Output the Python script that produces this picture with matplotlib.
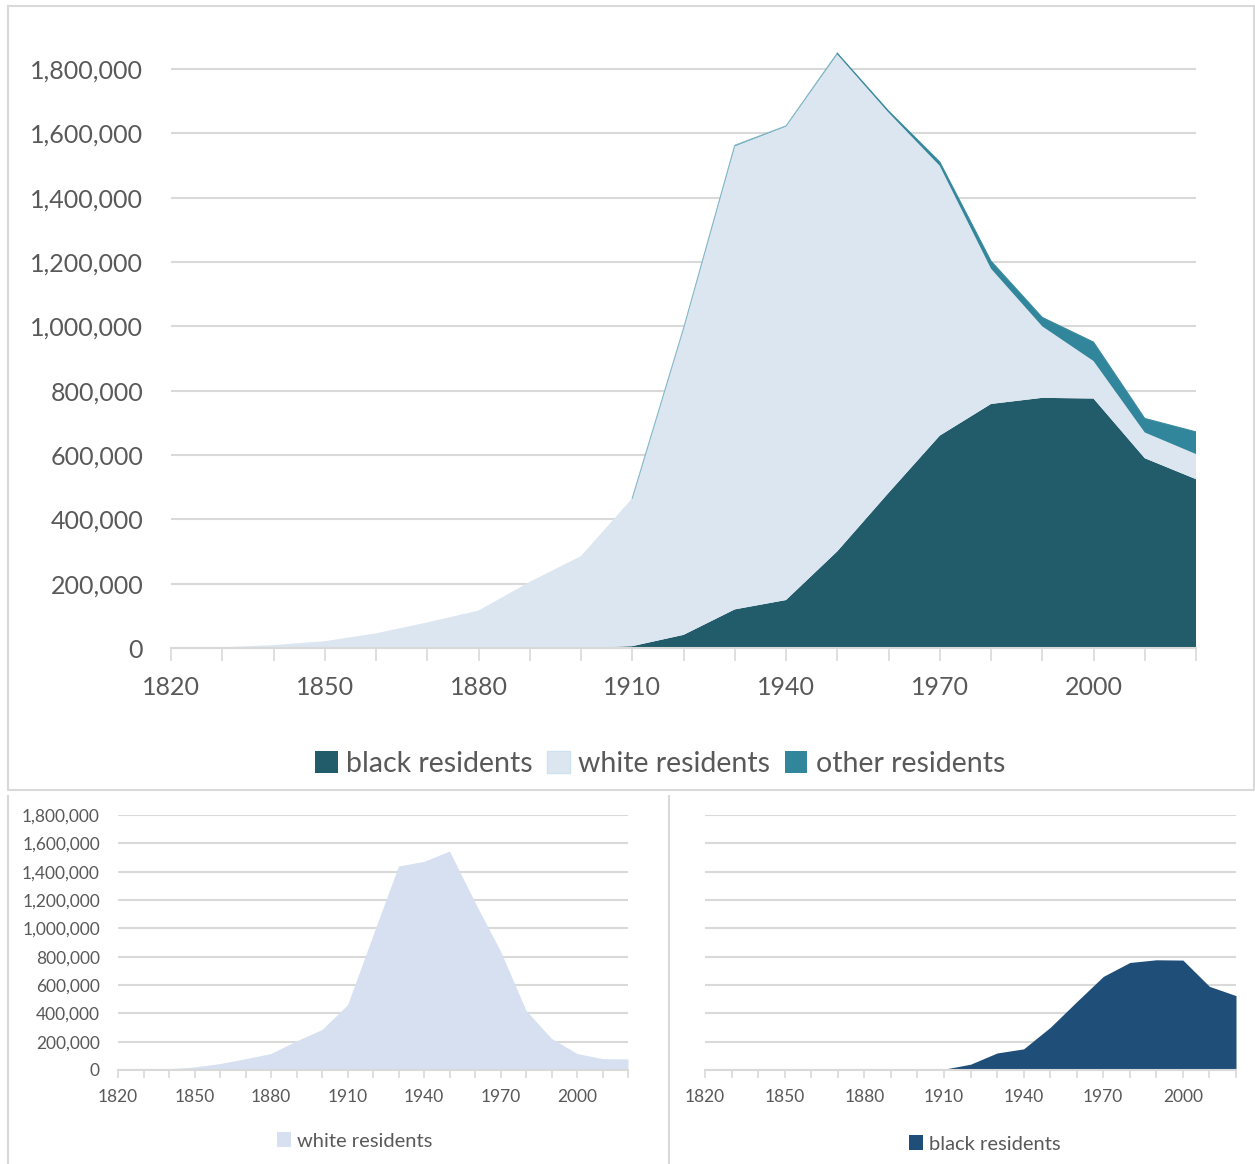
import matplotlib.pyplot as plt
from matplotlib.patches import Patch
from matplotlib.lines import Line2D

plt.rcParams["font.family"] = ["Lato", "DejaVu Sans"]

# census decades and residents by group
years = [1820, 1830, 1840, 1850, 1860, 1870, 1880, 1890, 1900, 1910, 1920,
         1930, 1940, 1950, 1960, 1970, 1980, 1990, 2000, 2010, 2020]
black = [0, 0, 0, 0, 0, 0, 0, 0, 0, 5741, 40838,
         120066, 149119, 300506, 482223, 660428, 758939, 777916, 775772, 590226, 525000]
white = [1422, 2222, 9102, 21019, 45619, 79577, 116340, 205876, 285704, 460025, 952840,
         1440141, 1472662, 1545847, 1182970, 838877, 420529, 222316, 116599, 80000, 78000]
other = [0, 0, 0, 0, 0, 0, 0, 0, 0, 0, 0,
         3000, 1671, 3215, 4951, 12177, 23871, 27742, 58899, 43551, 69000]

label_years = [1820, 1850, 1880, 1910, 1940, 1970, 2000]
y_ticks = [0, 200000, 400000, 600000, 800000, 1000000, 1200000, 1400000, 1600000, 1800000]

C_BLACK = "#225b6a"
C_WHITE = "#dce6f1"
C_OTHER = "#31869b"
C_WHITE_SOLO = "#d6e0f0"
C_BLACK_SOLO = "#1f4e79"
GRID = "#d9d9d9"
TEXT = "#595959"

W, H = 1255, 1164
fig = plt.figure(figsize=(W / 100, H / 100), dpi=100)


def px_axes(x0, x1, y_top, y_bot):
    return fig.add_axes([x0 / W, 1 - y_bot / H, (x1 - x0) / W, (y_bot - y_top) / H])


def style_axes(ax, fs, ymax, show_y=True, tick_len=7, xpad=6, ypad=10):
    ax.set_xlim(years[0], years[-1])
    ax.set_ylim(0, ymax)
    ax.set_yticks(y_ticks)
    if show_y:
        ax.set_yticklabels([f"{v:,}" for v in y_ticks])
    else:
        ax.set_yticklabels([])
    ax.set_xticks(years)
    ax.set_xticklabels([str(y) if y in label_years else "" for y in years])
    ax.grid(axis="y", color=GRID, linewidth=1.5)
    ax.set_axisbelow(True)
    for s in ["top", "right", "left"]:
        ax.spines[s].set_visible(False)
    ax.spines["bottom"].set_color(GRID)
    ax.spines["bottom"].set_linewidth(1.5)
    ax.spines["bottom"].set_zorder(5)
    ax.tick_params(axis="x", direction="out", length=tick_len, width=1.2, color=GRID,
                   labelsize=fs, labelcolor=TEXT, pad=xpad)
    ax.tick_params(axis="y", length=0, labelsize=fs, labelcolor=TEXT, pad=ypad)


# main stacked chart
ax = px_axes(171, 1196, 37, 648)
ax.stackplot(years, black, white, other, colors=[C_BLACK, C_WHITE, C_OTHER], linewidth=0)
total = [b + w + o for b, w, o in zip(black, white, other)]
i0 = years.index(1910)
i1 = years.index(1950)
ax.plot(years[i0:i1 + 1], total[i0:i1 + 1], color="#84b8c7", linewidth=0.8)
ax.plot(years[i1:], total[i1:], color="#3b8a9e", linewidth=0.8)
style_axes(ax, 18, 1900000, tick_len=9, xpad=11, ypad=20)

fig.legend(handles=[Patch(facecolor=C_BLACK), Patch(facecolor=C_WHITE, edgecolor="#cfe3ee"),
                    Patch(facecolor=C_OTHER)],
           labels=["black residents", "white residents", "other residents"],
           loc="center", bbox_to_anchor=(660 / W, 1 - 764 / H), ncol=3, frameon=False,
           fontsize=20.5, labelcolor=TEXT, handlelength=0.8, handleheight=0.8,
           handletextpad=0.3, columnspacing=0.5)

# white residents alone
ax2 = px_axes(118, 628, 815, 1070)
ax2.fill_between(years, white, color=C_WHITE_SOLO, linewidth=0)
style_axes(ax2, 12.5, 1800000, tick_len=6, xpad=8, ypad=13)
fig.legend(handles=[Patch(facecolor=C_WHITE_SOLO)], labels=["white residents"],
           loc="center", bbox_to_anchor=(355 / W, 1 - 1141 / H), frameon=False,
           fontsize=14.5, labelcolor=TEXT, handlelength=0.7, handleheight=0.7,
           handletextpad=0.3)

# black residents alone
ax3 = px_axes(705, 1236, 815, 1070)
ax3.fill_between(years, black, color=C_BLACK_SOLO, linewidth=0)
style_axes(ax3, 12.5, 1800000, show_y=False, tick_len=6, xpad=8)
fig.legend(handles=[Patch(facecolor=C_BLACK_SOLO)], labels=["black residents"],
           loc="center", bbox_to_anchor=(985 / W, 1 - 1144 / H), frameon=False,
           fontsize=14.5, labelcolor=TEXT, handlelength=0.7, handleheight=0.7,
           handletextpad=0.3)


# panel frames
def fig_line(xs, ys):
    fig.add_artist(Line2D([x / W for x in xs], [1 - y / H for y in ys],
                          color=GRID, linewidth=1.5))


fig_line([8, 1254, 1254, 8, 8], [6, 6, 790, 790, 6])
fig_line([8, 8], [796, 1164])
fig_line([669, 669], [796, 1164])

fig.savefig("out.png", dpi=100, facecolor="white")
